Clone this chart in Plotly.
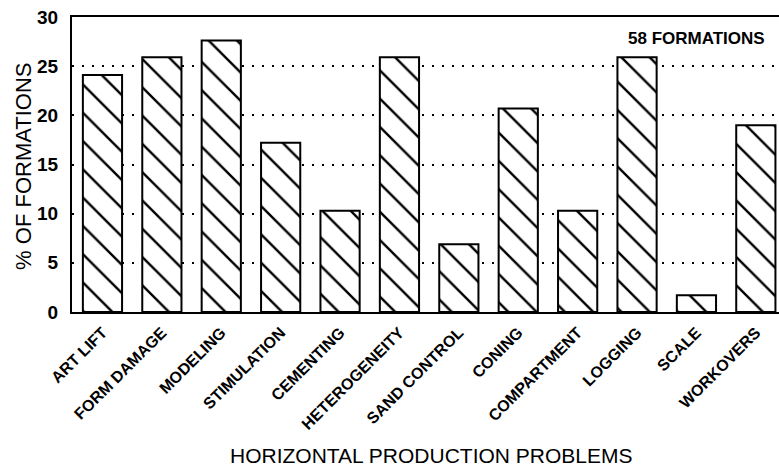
import plotly.graph_objects as go

categories = ["ART LIFT", "FORM DAMAGE", "MODELING", "STIMULATION", "CEMENTING",
              "HETEROGENEITY", "SAND CONTROL", "CONING", "COMPARTMENT", "LOGGING",
              "SCALE", "WORKOVERS"]
pct_formations = [24.1, 25.9, 27.6, 17.2, 10.3, 25.9, 6.9, 20.7, 10.3, 25.9, 1.7, 19.0]
y_ticks = [0, 5, 10, 15, 20, 25, 30]

FONT = "Liberation Sans, Arial, sans-serif"

fig = go.Figure(go.Bar(
    x=categories, y=pct_formations, width=0.66,
    marker=dict(color="white", line=dict(color="black", width=2),
                pattern=dict(shape="\\", fgcolor="#000000", bgcolor="white",
                             fgopacity=1, fillmode="replace",
                             size=20, solidity=0.12)),
))

fig.update_layout(
    width=779, height=467,
    margin=dict(l=72, r=0, t=17, b=155),
    plot_bgcolor="white", paper_bgcolor="white",
    showlegend=False,
    font=dict(family=FONT, color="black"),
    xaxis=dict(
        type="category", range=[-0.513, 11.39], automargin=False,
        showline=True, linecolor="black", linewidth=2, mirror=True,
        showgrid=False, ticks="outside", ticklen=3, tickcolor="white", tickangle=-45,
        tickfont=dict(family=FONT, size=16, color="black", weight="bold"),
    ),
    yaxis=dict(
        range=[0, 30], tickvals=y_ticks, ticktext=[str(v) for v in y_ticks],
        automargin=False,
        showline=True, linecolor="black", linewidth=2,
        showgrid=True, gridcolor="black", gridwidth=2, griddash="2px,8px",
        zeroline=False, ticks="outside", ticklen=8, tickcolor="white",
        tickfont=dict(family=FONT, size=19, color="black", weight="bold"),
    ),
    annotations=[
        dict(text="58 FORMATIONS", x=0.884, xref="paper", y=0.927, yref="paper",
             xanchor="center", yanchor="middle", showarrow=False,
             font=dict(family=FONT, size=17, color="black", weight="bold")),
        dict(text="HORIZONTAL PRODUCTION PROBLEMS", x=0.509, xref="paper", y=-0.485, yref="paper",
             xanchor="center", yanchor="middle", showarrow=False,
             font=dict(family=FONT, size=21, color="black")),
        dict(text="% OF FORMATIONS", x=-0.068, xref="paper", y=0.495, yref="paper",
             xanchor="center", yanchor="middle", showarrow=False, textangle=-90,
             font=dict(family=FONT, size=22, color="black")),
    ],
)

fig.write_html("out.html", config={"displayModeBar": False},
               post_script="document.body.style.margin='0';document.body.style.padding='0';")
